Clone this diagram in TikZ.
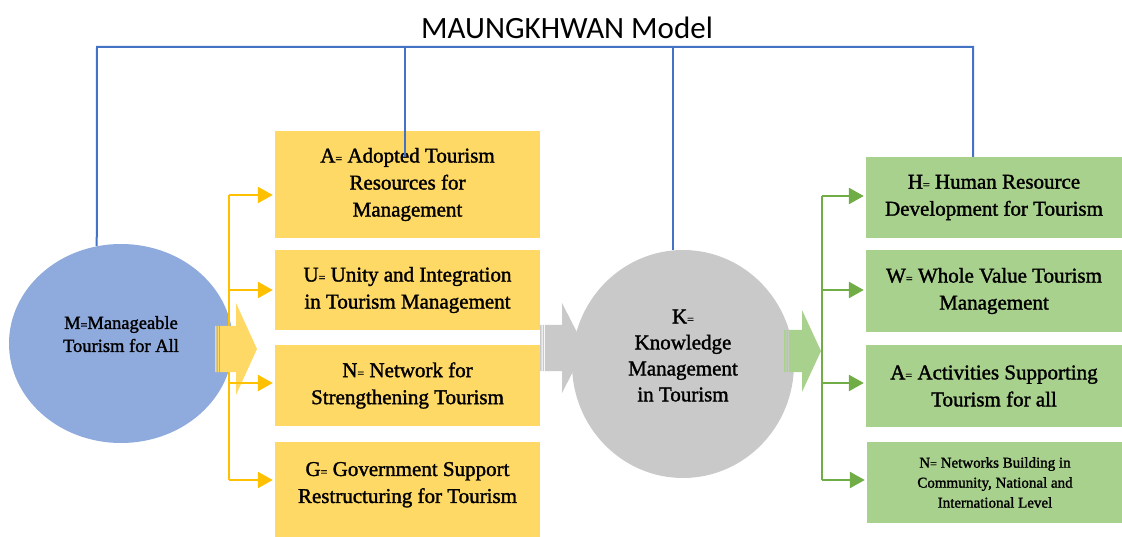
\documentclass[tikz,border=0pt]{standalone}
\usepackage{fontspec}
\setmainfont{Liberation Serif}[FakeBold=1.5]
\newfontfamily\titlefont{Carlito}
\usetikzlibrary{positioning, arrows.meta, shapes.geometric}
\definecolor{boxyellow}{HTML}{FFD966}
\definecolor{lineyellow}{HTML}{FFC000}
\definecolor{ellblue}{HTML}{8FAADC}
\definecolor{lineblue}{HTML}{4472C4}
\definecolor{circgrey}{HTML}{C9C9C9}
\definecolor{boxgreen}{HTML}{A9D18E}
\definecolor{linegreen}{HTML}{70AD47}
\newcommand{\eq}{{\fontsize{12}{12}\selectfont=}}

\begin{document}
\begin{tikzpicture}[x=1pt, y=-1pt, lift/.style={execute at end node={\rule[-#1]{0pt}{#1}}}]
		\tikzstyle{ybox} = [rectangle, fill=boxyellow, minimum width=265, inner sep=0, align=center, font=\fontsize{21}{27}\selectfont]
		\tikzstyle{gbox} = [rectangle, fill=boxgreen, minimum width=256, inner sep=0, align=center, font=\fontsize{21}{27}\selectfont]
		\tikzstyle{ell_m} = [ellipse, fill=ellblue, minimum width=224, minimum height=199, inner sep=0, align=center, font=\fontsize{18.5}{23}\selectfont]
		\tikzstyle{circ_k} = [ellipse, fill=circgrey, minimum width=222, minimum height=228, inner sep=0, align=center, font=\fontsize{21}{26}\selectfont]
		\tikzstyle{yline} = [draw=lineyellow, line width=2.5]
		\tikzstyle{gline} = [draw=linegreen, line width=2.5]
		\tikzstyle{bline} = [draw=lineblue, line width=2]
		\tikzstyle{tri} = [-{Triangle[length=15,width=16]}, shorten >=2]
		\useasboundingbox (0,0) rectangle (1122,537);
		% left side
		\node [ell_m, lift=19pt] (M) at (121,343.5) {M\eq Manageable\\Tourism for All};
		\coordinate (ys1) at (229,195);
		\coordinate (ys2) at (229,290);
		\coordinate (ys3) at (229,383);
		\coordinate (ys4) at (229,480);
		\draw [yline] (ys1) -- (ys4);
		\fill [boxyellow] (215,326) rectangle (216.6,372) (217.6,326) rectangle (219.2,372);
		\fill [boxyellow] (220.2,326) -- (236,326) -- (236,303) -- (257,349) -- (236,395) -- (236,372) -- (220.2,372) -- cycle;
		\node [ybox, minimum height=107] (A) at (407.5,184.5) {A\eq{} Adopted Tourism\\Resources for\\Management};
		\node [ybox, minimum height=80] (U) at (407.5,290) {U\eq{} Unity and Integration\\in Tourism Management};
		\node [ybox, minimum height=81] (N) at (407.5,385.5) {N\eq{} Network for\\Strengthening Tourism};
		\node [ybox, minimum height=95, lift=14pt] (G) at (407.5,489.5) {G\eq{} Government Support\\Restructuring for Tourism};
		\draw [yline, tri] (ys1) -- (ys1 -| A.west);
		\draw [yline, tri] (ys2) -- (ys2 -| U.west);
		\draw [yline, tri] (ys3) -- (ys3 -| N.west);
		\draw [yline, tri] (ys4) -- (ys4 -| G.west);
		% middle
		\fill [circgrey] (540,325) rectangle (541.6,371) (542.6,325) rectangle (544.2,371);
		\fill [circgrey] (545.2,325) -- (562,325) -- (562,303) -- (585,348) -- (562,393) -- (562,371) -- (545.2,371) -- cycle;
		\node [circ_k, lift=17pt] (K) at (683,364) {K\eq\\Knowledge\\Management\\in Tourism};
		\fill [boxgreen] (784,330) rectangle (785.6,372) (786.6,330) rectangle (788.2,372);
		\fill [boxgreen] (789.2,330) -- (802,330) -- (802,310) -- (821,351) -- (802,392) -- (802,372) -- (789.2,372) -- cycle;
		% right side
		\coordinate (gs1) at (822,196);
		\coordinate (gs2) at (822,290);
		\coordinate (gs3) at (822,383);
		\coordinate (gs4) at (822,480);
		\draw [gline] (gs1) -- (gs4);
		\node [gbox, minimum height=81] (H) at (994,197.5) {H\eq{} Human Resource\\Development for Tourism};
		\node [gbox, minimum height=82] (W) at (994,291) {W\eq{} Whole Value Tourism\\Management};
		\node [gbox, minimum height=82] (Ag) at (994,386) {A\eq{} Activities Supporting\\Tourism for all};
		\node [gbox, minimum height=81, font=\fontsize{15}{20}\selectfont] (Ng) at (995,482.5) {N\eq{} Networks Building in\\Community, National and\\International Level};
		\draw [gline, tri] (gs1) -- (gs1 -| H.west);
		\draw [gline, tri] (gs2) -- (gs2 -| W.west);
		\draw [gline, tri] (gs3) -- (gs3 -| Ag.west);
		\draw [gline, tri] (gs4) -- (gs4 -| Ng.west);
		% model links
		\node [font=\titlefont\fontsize{31}{31}\selectfont] (title) at (567,28) {MAUNGKHWAN Model};
		\coordinate (busL) at (97,47);
		\coordinate (busR) at (973,47);
		\coordinate (Aend) at (405,157);
		\draw [bline] (M.104) -- (busL) -- (busR) -- (busR |- H.north);
		\draw [bline] (Aend) -- (Aend |- busL);
		\draw [bline] (K.95) -- (K.95 |- busL);
\end{tikzpicture}
\end{document}
